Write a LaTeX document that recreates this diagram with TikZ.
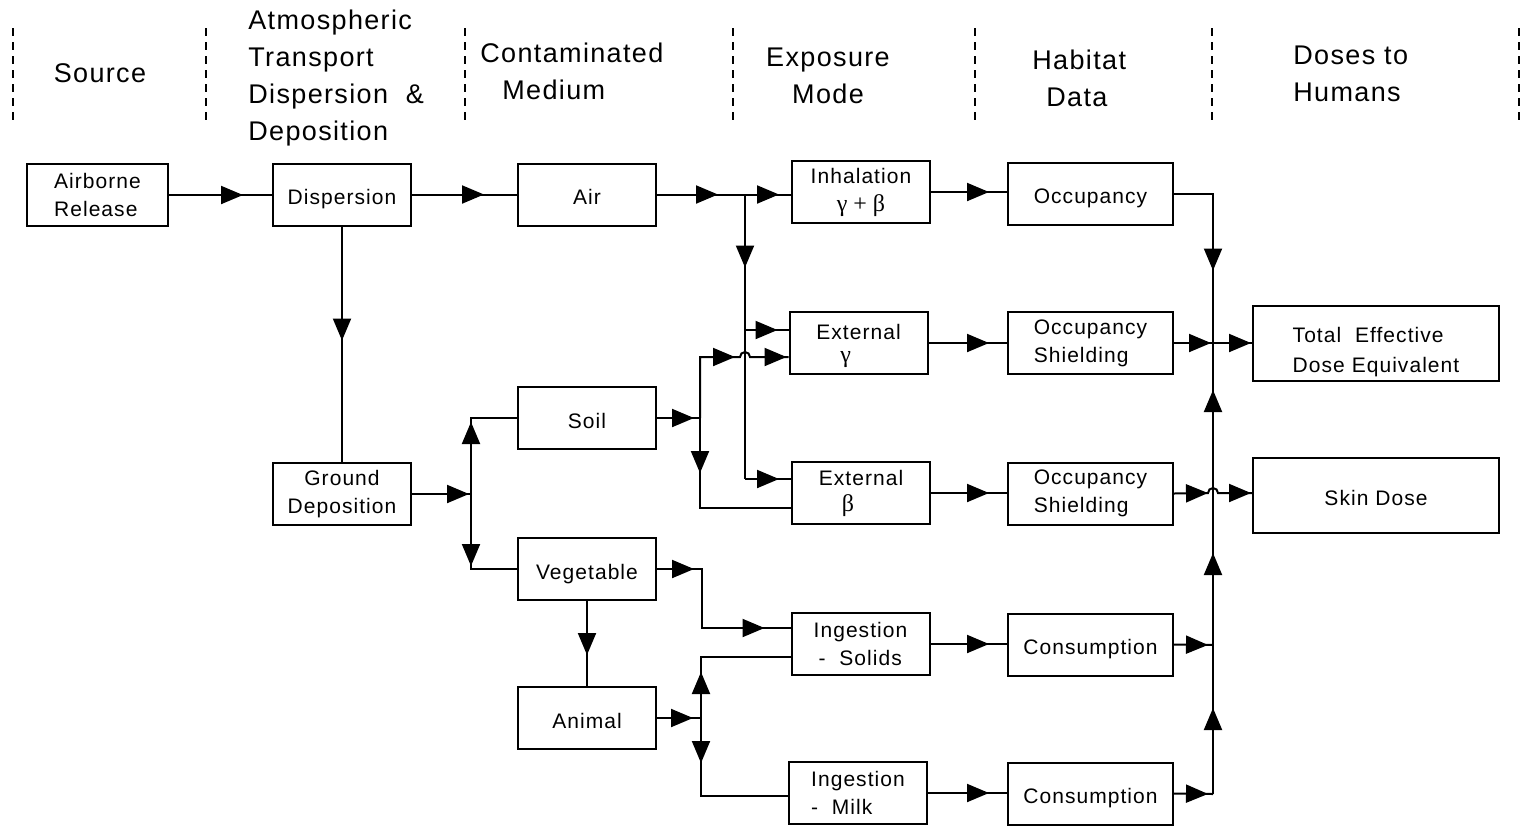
\documentclass[tikz,border=0pt]{standalone}
\usepackage{fontspec}
\setmainfont{Liberation Sans}[LetterSpace=5]
\newfontfamily\grk{Liberation Serif}
\newcommand\gk[1]{{\grk\fontsize{12}{14}\selectfont #1}}
\usetikzlibrary{arrows.meta,decorations.markings}

\tikzset{
  box/.style={draw, line width=1pt, inner sep=0pt, minimum width=69pt,
    minimum height=31pt, font=\fontsize{10.5}{14}\selectfont, align=center},
  one/.style={text height=10pt, text depth=0pt},
  hbox/.style={box, minimum width=82.5pt},
  dbox/.style={box, minimum width=123pt, minimum height=37.5pt},
  head/.style={font=\fontsize{13.5}{18.5}\selectfont, inner sep=0pt},
  wire/.style={line width=1pt},
  sepline/.style={line width=1pt, dash pattern=on 4pt off 3pt},
  ah/.style={postaction={decorate,decoration={markings,
    mark=at position #1 with {\arrow{Triangle[length=11pt,width=9pt]}}}}},
  ahh/.style 2 args={postaction={decorate,decoration={markings,
    mark=at position #1 with {\arrow{Triangle[length=11pt,width=9pt]}},
    mark=at position #2 with {\arrow{Triangle[length=11pt,width=9pt]}}}}},
}

\begin{document}
\begin{tikzpicture}[x=0.5pt,y=-0.5pt]
\useasboundingbox (0,0) rectangle (1522,827);

% column headings and separators
\foreach \sx in {13,206,465,733,975,1212,1519}
  \draw[sepline] (\sx,28) -- (\sx,125);
\node[head] (hsrc) at (100,73) {Source};
\node[head,anchor=west,align=left] (hatm) at (248,78) {Atmospheric\\Transport\\Dispersion \ \&\\Deposition};
\node[head,anchor=west,align=left] (hcon) at (480,71.5) {Contaminated\\\hspace*{11pt}Medium};
\node[head,align=center] (hexp) at (828,75.5) {Exposure\\Mode};
\node[head,anchor=west,align=left] (hhab) at (1032,78.5) {Habitat\\\hspace*{7pt}Data};
\node[head,anchor=west,align=left] (hdos) at (1293,73.5) {Doses to\\Humans};

% boxes
\node[box,minimum width=70.5pt,align=left] (rel) at (97.5,195) {Airborne\\Release};
\node[box,one] (disp) at (342,194.5) {Dispersion};
\node[box] (gdep) at (342,494) {Ground\\Deposition};
\node[box,one] (air)  at (587,194.5) {Air};
\node[box,one] (soil) at (587,418) {Soil};
\node[box,one] (veg)  at (587,569) {Vegetable};
\node[box,one] (anim) at (587,718) {Animal};
\node[box] (inh)  at (861,192) {Inhalation\\\gk{γ + β}};
\node[box,align=left,font=\fontsize{10.5}{11.5}\selectfont,text height=22.5pt] (extg) at (858.5,343) {External\\\hspace*{12pt}\gk{γ}};
\node[box,align=left,font=\fontsize{10.5}{13}\selectfont,text height=21.4pt] (extb) at (861,493) {External\\\hspace*{11.5pt}\gk{β}};
\node[box,align=left] (ings) at (860.5,644) {Ingestion\\\hspace*{2.5pt}-\ \ Solids};
\node[box,align=left] (ingm) at (858,793) {Ingestion\\-\ \ Milk};
\node[hbox,one] (occ)  at (1090.5,193.5) {Occupancy};
\node[hbox,align=left] (osh1) at (1090.5,343) {Occupancy\\Shielding};
\node[hbox,align=left] (osh2) at (1090.5,493.5) {Occupancy\\Shielding};
\node[hbox,one] (cons1) at (1090.5,644.5) {Consumption};
\node[hbox,one] (cons2) at (1090.5,793.5) {Consumption};
\node[dbox,align=left,font=\fontsize{10.5}{15}\selectfont,text height=31.2pt] (ted) at (1376,343.5) {Total\ \ Effective\\Dose Equivalent};
\node[dbox,one] (skin) at (1376,495.5) {Skin Dose};

% junction points
\coordinate (jA) at (745,194.5);
\coordinate (jB) at (745,330);
\coordinate (jC) at (745,479);
\coordinate (jS) at (700,418);
\coordinate (jSb) at (700,508);
\coordinate (h1) at (740,357);
\coordinate (jG) at (471,494);
\coordinate (jV2) at (702,628);
\coordinate (jN) at (701,718);
\coordinate (jN2) at (701,657);
\coordinate (jN3) at (701,796);
\coordinate (jT) at (1213,343);
\coordinate (h3) at (1208,493);
\coordinate (jK0) at (1213,493);
\coordinate (jK1) at (1213,645);
\coordinate (jK2) at (1213,794);

% source and transport
\draw[wire,ah=37pt] (rel.east) -- (rel.east -| disp.west);
\draw[wire,ah=36pt] (disp.east) -- (air.west);
\draw[wire,ah=57pt] (disp.south) -- (gdep.north);

% air pathways
\draw[wire,ah=30.5pt] (air.east) -- (jA);
\draw[wire,ah=-6pt] (jA) -- (jA -| inh.west);
\draw[wire,ah=36.5pt] (jA) -- (jB);
\draw[wire,ah=-5.5pt] (jB) -- (jB -| extg.west);
\draw[wire] (jB) -- (jC);
\draw[wire,ah=-6pt] (jC) -- (jC -| extb.west);

% ground pathways
\draw[wire,ah=28.5pt] (gdep.east) -- (jG);
\draw[wire,ah=36pt] (jG) |- (soil.west);
\draw[wire,ah=36pt] (jG) |- (veg.west);
\draw[wire,ah=18.5pt] (soil.east) -- (jS);
\draw[wire,ahh={48pt}{-1pt}] (jS) |- (h1) arc[start angle=180,end angle=0,radius=2.5pt] -- (h1 -| extg.west);
\draw[wire,ah=27.5pt] (jS) -- (jSb) -- (jSb -| extb.west);
\draw[wire,ahh={18.5pt}{-13pt}] (veg.east) -| (jV2) -- (jV2 -| ings.west);
\draw[wire,ah=27pt] (veg.south) -- (anim.north);
\draw[wire,ah=18pt] (anim.east) -- (jN);
\draw[wire,ah=23pt] (jN) -- (jN2) -- (jN2 -| ings.west);
\draw[wire,ah=22.5pt] (jN) -- (jN3) -- (jN3 -| ingm.west);

% exposure to habitat
\draw[wire,ah=-9pt] (inh.east) -- (inh.east -| occ.west);
\draw[wire,ah=-9pt] (extg.east) -- (extg.east -| osh1.west);
\draw[wire,ah=-9pt] (extb.east) -- (extb.east -| osh2.west);
\draw[wire,ah=-9pt] (ings.east) -- (ings.east -| cons1.west);
\draw[wire,ah=-9pt] (ingm.east) -- (ingm.east -| cons2.west);

% collection to doses
\draw[wire,ah=58pt] (occ.east) -| (jT);
\draw[wire,ah=18.5pt] (osh1.east) -- (jT);
\draw[wire,ah=-0.5pt] (jT) -- (jT -| ted.west);
\draw[wire,ahh={17pt}{-0.5pt}] (osh2.east) -- (h3) arc[start angle=180,end angle=0,radius=2.5pt] -- (h3 -| skin.west);
\draw[wire,ah=17pt] (cons2.east) -- (jK2);
\draw[wire,ah=43pt] (jK2) -- (jK1);
\draw[wire,ah=17pt] (cons1.east) -- (jK1);
\draw[wire,ah=46pt] (jK1) -- (jK0);
\draw[wire,ah=51.5pt] (jK0) -- (jT);
\end{tikzpicture}
\end{document}
